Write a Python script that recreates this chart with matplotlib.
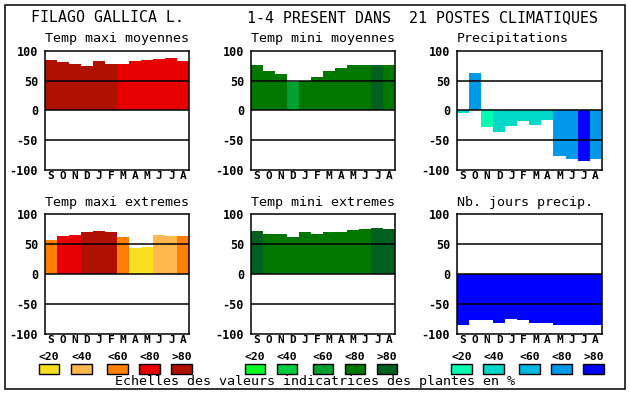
import matplotlib
matplotlib.use("Agg")
import matplotlib.pyplot as plt
from matplotlib.patches import Rectangle

# donnees
months = ['S', 'O', 'N', 'D', 'J', 'F', 'M', 'A', 'M', 'J', 'J', 'A']
scale_labels = ['<20', '<40', '<60', '<80', '>80']

reds = ['#f8e020', '#ffb850', '#ff8000', '#e80000', '#b01000']
greens = ['#00ff20', '#00cc40', '#00a030', '#007800', '#006020']
blues = ['#00ffb0', '#00d8c8', '#00b8e0', '#0098e8', '#0000ff']

tmax_moy = [84, 81, 77, 75, 82, 77, 77, 82, 84, 86, 87, 82]
tmax_moy_cls = [4, 4, 4, 4, 4, 4, 3, 3, 3, 3, 3, 3]

tmin_moy = [76, 66, 61, 47, 50, 56, 66, 71, 76, 76, 76, 76]
tmin_moy_cls = [3, 3, 3, 2, 3, 3, 3, 3, 3, 3, 4, 3]

precip = [-4, 63, -28, -36, -26, -18, -25, -16, -77, -82, -85, -82]
precip_cls = [1, 3, 0, 1, 1, 1, 1, 1, 3, 3, 4, 3]

tmax_ext = [57, 64, 65, 70, 72, 70, 62, 44, 45, 65, 64, 64]
tmax_ext_cls = [2, 3, 3, 4, 4, 4, 2, 0, 0, 1, 1, 2]

tmin_ext = [72, 67, 67, 62, 70, 67, 70, 70, 74, 75, 77, 75]
tmin_ext_cls = [4, 3, 3, 3, 3, 3, 3, 3, 3, 3, 4, 4]

jours = [-84, -77, -77, -81, -74, -76, -82, -81, -84, -84, -85, -85]
jours_cls = [4] * 12

W, H = 630, 394
MONO = 'DejaVu Sans Mono'


def px_axes(fig, x0, y0, x1, y1):
    return fig.add_axes([x0 / W, 1 - y1 / H, (x1 - x0) / W, (y1 - y0) / H])


def draw_panel(fig, box, title, values, classes, palette):
    x0, y0, x1, y1 = box
    ax = px_axes(fig, x0, y0, x1, y1)
    cols = [palette[c] for c in classes]
    ax.bar(range(12), values, width=1.0, color=cols, linewidth=0, zorder=1)
    for yv in (-50, 0, 50):
        ax.axhline(yv, color='black', lw=1.1, zorder=3)
    ax.set_xlim(-0.5, 11.5)
    ax.set_ylim(-100, 100)
    ax.set_yticks([100, 50, 0, -50, -100])
    ax.set_yticklabels(['100', '50', '0', '-50', '-100'],
                       fontfamily=MONO, fontweight='bold', fontsize=8.5)
    ax.set_xticks(range(12))
    ax.set_xticklabels(months, fontfamily=MONO, fontweight='bold', fontsize=8)
    ax.tick_params(axis='x', length=0, pad=0.5)
    ax.tick_params(axis='y', length=0, pad=5)
    for s in ax.spines.values():
        s.set_linewidth(1.1)
    fig.text(x0 / W, 1 - (y0 - 12) / H, title, fontfamily=MONO, fontsize=9.6,
             ha='left', va='center')
    return ax


def draw_scale(fig, boxes_x, palette, y_lab, y_box):
    for (bx0, bx1), col, lab in zip(boxes_x, palette, scale_labels):
        fig.text((bx0 + bx1) / 2 / W, 1 - y_lab / H, lab, fontfamily=MONO,
                 fontweight='bold', fontsize=8.2, ha='center', va='center')
        fig.patches.append(Rectangle((bx0 / W, 1 - (y_box + 10) / H),
                                     (bx1 - bx0) / W, 10 / H,
                                     transform=fig.transFigure,
                                     facecolor=col, edgecolor='black', lw=1))


fig = plt.figure(figsize=(W / 100, H / 100), dpi=100)
fig.patches.append(Rectangle((4.5 / W, 1 - 389 / H), 620 / W, 384.5 / H,
                             transform=fig.transFigure, fill=False,
                             edgecolor='black', lw=1.1))

cols_x = [(45, 189.3), (251, 395.3), (457, 601.7)]
row_top = (50.7, 170)
row_bot = (214.3, 334.3)

draw_panel(fig, (cols_x[0][0], row_top[0], cols_x[0][1], row_top[1]),
           'Temp maxi moyennes', tmax_moy, tmax_moy_cls, reds)
draw_panel(fig, (cols_x[1][0], row_top[0], cols_x[1][1], row_top[1]),
           'Temp mini moyennes', tmin_moy, tmin_moy_cls, greens)
draw_panel(fig, (cols_x[2][0], row_top[0], cols_x[2][1], row_top[1]),
           'Precipitations', precip, precip_cls, blues)
draw_panel(fig, (cols_x[0][0], row_bot[0], cols_x[0][1], row_bot[1]),
           'Temp maxi extremes', tmax_ext, tmax_ext_cls, reds)
draw_panel(fig, (cols_x[1][0], row_bot[0], cols_x[1][1], row_bot[1]),
           'Temp mini extremes', tmin_ext, tmin_ext_cls, greens)
draw_panel(fig, (cols_x[2][0], row_bot[0], cols_x[2][1], row_bot[1]),
           'Nb. jours precip.', jours, jours_cls, blues)

fig.text(31 / W, 1 - 18 / H, 'FILAGO GALLICA L.', fontfamily=MONO,
         fontsize=10.7, ha='left', va='center')
fig.text(247 / W, 1 - 18 / H, '1-4 PRESENT DANS  21 POSTES CLIMATIQUES',
         fontfamily=MONO, fontsize=10.7, ha='left', va='center')

draw_scale(fig, [(39, 59), (71, 92), (107, 128), (139, 160), (171, 192)],
           reds, 356.5, 363.5)
draw_scale(fig, [(245, 265), (277, 297), (313, 333), (345, 365), (377, 397)],
           greens, 356.5, 363.5)
draw_scale(fig, [(451, 472), (483, 504), (519, 540), (551, 572), (583, 604)],
           blues, 356.5, 363.5)

fig.text(115 / W, 1 - 382 / H,
         'Echelles des valeurs indicatrices des plantes en %',
         fontfamily=MONO, fontsize=9.6, ha='left', va='center')

fig.savefig('out.png', dpi=100)
